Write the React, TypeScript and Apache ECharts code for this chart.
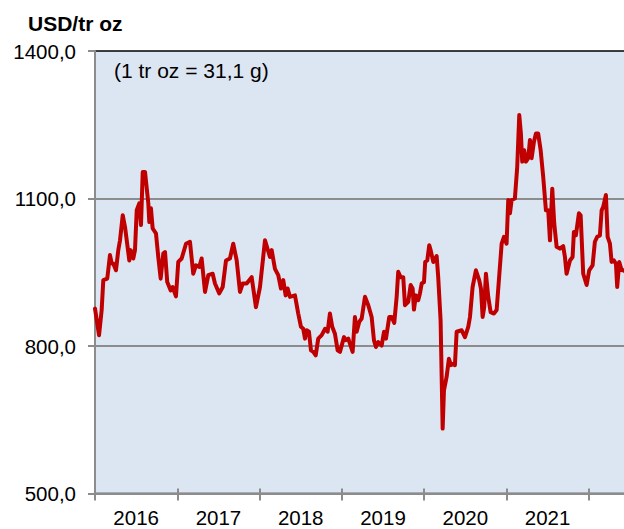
import React, { useEffect, useRef } from "react";
import * as echarts from "echarts";

// x-axis category labels (one per calendar year; the 2022 slot is cut off in the reference)
const yearLabels = ["2016", "2017", "2018", "2019", "2020", "2021", ""];

// y-axis range / ticks (USD per troy ounce)
const yMin = 500;
const yMax = 1400;
const yStep = 300;

// decimal-year dates of the traced price points
const dates = [
  2016.0, 2016.049, 2016.081, 2016.101, 2016.149, 2016.182, 2016.203, 2016.222, 2016.255, 2016.283,
  2016.304, 2016.337, 2016.365, 2016.417, 2016.434, 2016.465, 2016.486, 2016.507, 2016.538, 2016.559,
  2016.58, 2016.608, 2016.648, 2016.66, 2016.68, 2016.701, 2016.741, 2016.769, 2016.798, 2016.83,
  2016.851, 2016.878, 2016.92, 2016.944, 2016.984, 2017.012, 2017.053, 2017.106, 2017.154, 2017.194,
  2017.227, 2017.267, 2017.296, 2017.337, 2017.377, 2017.43, 2017.458, 2017.51, 2017.552, 2017.592,
  2017.64, 2017.68, 2017.722, 2017.762, 2017.795, 2017.843, 2017.904, 2017.956, 2018.005, 2018.066,
  2018.126, 2018.147, 2018.187, 2018.227, 2018.26, 2018.288, 2018.317, 2018.341, 2018.369, 2018.43,
  2018.47, 2018.503, 2018.531, 2018.552, 2018.572, 2018.6, 2018.625, 2018.653, 2018.682, 2018.713,
  2018.755, 2018.795, 2018.827, 2018.855, 2018.883, 2018.916, 2018.949, 2018.977, 2019.026, 2019.05,
  2019.078, 2019.098, 2019.131, 2019.159, 2019.18, 2019.211, 2019.241, 2019.281, 2019.321, 2019.362,
  2019.39, 2019.414, 2019.442, 2019.484, 2019.512, 2019.536, 2019.576, 2019.605, 2019.637, 2019.666,
  2019.685, 2019.714, 2019.746, 2019.767, 2019.807, 2019.836, 2019.86, 2019.876, 2019.9, 2019.928,
  2019.949, 2019.97, 2019.998, 2020.013, 2020.038, 2020.062, 2020.079, 2020.111, 2020.152, 2020.171,
  2020.2, 2020.225, 2020.241, 2020.273, 2020.301, 2020.326, 2020.354, 2020.374, 2020.395, 2020.456,
  2020.496, 2020.536, 2020.557, 2020.589, 2020.629, 2020.669, 2020.69, 2020.711, 2020.73, 2020.751,
  2020.779, 2020.808, 2020.848, 2020.881, 2020.913, 2020.942, 2020.97, 2021.002, 2021.022, 2021.043,
  2021.063, 2021.103, 2021.131, 2021.156, 2021.176, 2021.192, 2021.216, 2021.237, 2021.265, 2021.286,
  2021.306, 2021.334, 2021.358, 2021.386, 2021.416, 2021.447, 2021.48, 2021.508, 2021.529, 2021.557,
  2021.581, 2021.61, 2021.65, 2021.69, 2021.711, 2021.731, 2021.772, 2021.804, 2021.82, 2021.844,
  2021.881, 2021.902, 2021.933, 2021.975, 2022.006, 2022.047, 2022.075, 2022.103, 2022.136, 2022.157,
  2022.176, 2022.209, 2022.23, 2022.258, 2022.278, 2022.306, 2022.331, 2022.346, 2022.371, 2022.4,
  2022.428, 2022.45,
];

// price values (USD/tr oz)
const prices = [
  876, 822, 873, 934, 937, 985, 968, 968, 954, 995,
  1015, 1066, 1042, 974, 995, 978, 995, 1076, 1090, 1046,
  1154, 1154, 1090, 1052, 1080, 1039, 1029, 981, 937, 988,
  991, 930, 913, 920, 901, 971, 978, 1008, 1012, 947,
  964, 961, 978, 910, 944, 947, 927, 907, 920, 974,
  978, 1008, 974, 910, 927, 927, 940, 879, 920, 1015,
  981, 995, 957, 944, 917, 934, 903, 917, 900, 903,
  866, 839, 835, 815, 832, 829, 791, 788, 781, 815,
  822, 835, 829, 866, 839, 825, 791, 788, 818, 812,
  815, 805, 788, 859, 829, 849, 856, 900, 883, 859,
  812, 798, 808, 801, 829, 815, 859, 859, 847, 900,
  951, 940, 940, 883, 890, 924, 917, 874, 903, 893,
  907, 927, 930, 971, 974, 1005, 995, 971, 983, 940,
  852, 632, 710, 737, 774, 761, 764, 761, 829, 832,
  818, 839, 859, 920, 954, 934, 917, 859, 879, 947,
  900, 869, 866, 873, 944, 1008, 1022, 1008, 1097, 1070,
  1097, 1100, 1164, 1270, 1232, 1175, 1198, 1175, 1182, 1219,
  1182, 1215, 1232, 1232, 1198, 1144, 1076, 1076, 1015, 1120,
  1049, 1002, 998, 1003, 981, 947, 974, 981, 1032, 1025,
  1070, 1066, 947, 924, 954, 964, 1012, 1022, 1025, 1076,
  1083, 1107, 1022, 1008, 971, 974, 967, 920, 971, 954,
  954, 950,
];

const unitTitle = "USD/tr oz";
const note = "(1 tr oz = 31,1 g)";

const FONT = "'Liberation Sans', Arial, sans-serif";
const AXIS_GRAY = "#8c8c8c";

export default function App() {
  const ref = useRef<HTMLDivElement>(null);

  useEffect(() => {
    document.body.style.margin = "0";
    const chart = echarts.init(ref.current!, null, { renderer: "svg" });
    chart.setOption({
      animation: false,
      backgroundColor: "#ffffff",
      textStyle: { fontFamily: FONT },
      grid: {
        left: 95,
        top: 51,
        right: 1,
        bottom: 35.5,
        show: true,
        backgroundColor: "#dce6f2",
        borderColor: "#000000",
        borderWidth: 1.5,
      },
      xAxis: [
        {
          type: "value",
          min: 2016,
          max: 2023,
          interval: 1,
          position: "bottom",
          axisLine: { show: false },
          axisLabel: { show: false },
          splitLine: { show: false },
          axisTick: {
            show: true,
            inside: true,
            length: 5,
            lineStyle: { color: AXIS_GRAY, width: 2 },
          },
        },
        {
          type: "category",
          data: yearLabels,
          position: "bottom",
          boundaryGap: true,
          axisLine: { show: true, lineStyle: { color: AXIS_GRAY, width: 2 } },
          axisTick: {
            show: true,
            alignWithLabel: false,
            length: 7,
            lineStyle: { color: AXIS_GRAY, width: 2 },
          },
          axisLabel: {
            color: "#000000",
            fontSize: 20.5,
            fontFamily: FONT,
            margin: 13,
          },
          splitLine: { show: false },
        },
      ],
      yAxis: {
        type: "value",
        min: yMin,
        max: yMax,
        interval: yStep,
        axisLine: { show: true, lineStyle: { color: AXIS_GRAY, width: 2 } },
        axisTick: {
          show: true,
          length: 7,
          lineStyle: { color: AXIS_GRAY, width: 2 },
        },
        axisLabel: {
          color: "#000000",
          fontSize: 20.5,
          fontFamily: FONT,
          margin: 19,
          formatter: (v: number) => v.toFixed(1).replace(".", ","),
        },
        splitLine: {
          show: true,
          lineStyle: {
            color: ["rgba(0,0,0,0)", AXIS_GRAY, AXIS_GRAY, "rgba(0,0,0,0)"],
            width: 2,
          },
        },
      },
      graphic: [
        {
          type: "text",
          left: 28,
          top: 13,
          style: {
            text: unitTitle,
            fontSize: 21,
            fontWeight: "bold",
            fontFamily: FONT,
            fill: "#000000",
          },
        },
        {
          type: "text",
          left: 114,
          top: 60,
          z: 10,
          style: {
            text: note,
            fontSize: 21,
            fontFamily: FONT,
            fill: "#000000",
          },
        },
      ],
      series: [
        {
          type: "line",
          xAxisIndex: 0,
          yAxisIndex: 0,
          data: dates.map((d, i) => [d, prices[i]]),
          showSymbol: false,
          symbol: "none",
          lineStyle: { color: "#c00000", width: 4, join: "round", cap: "round" },
          z: 5,
        },
      ],
    });
    return () => chart.dispose();
  }, []);

  return (
    <div style={{ width: 624, height: 529, overflow: "hidden", position: "relative" }}>
      <div ref={ref} style={{ width: 672, height: 529 }} />
    </div>
  );
}
